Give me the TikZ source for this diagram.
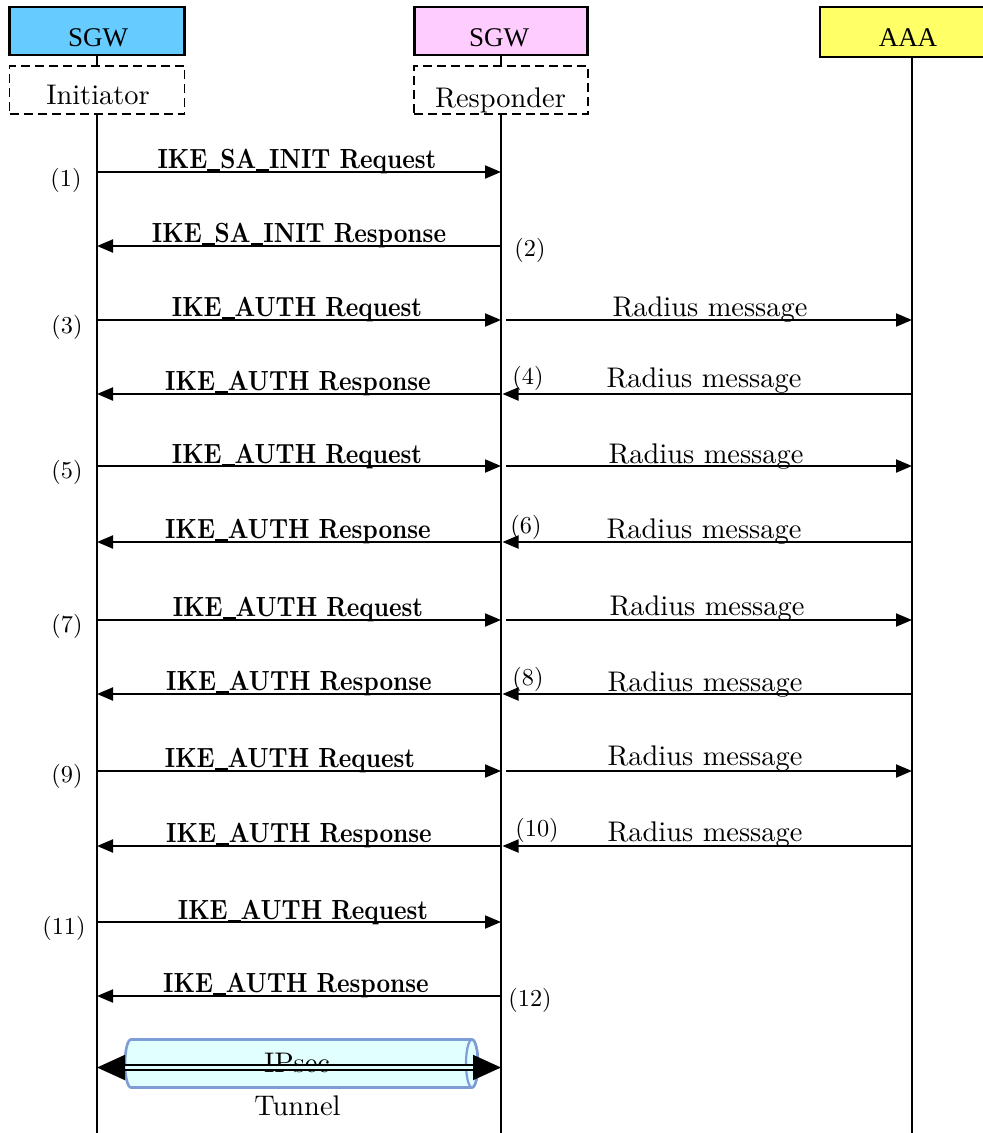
\documentclass[tikz,border=0pt]{standalone}
\usepackage{fontspec}
\usepackage{graphicx}
\usetikzlibrary{arrows.meta}
\setmainfont{lmroman10-regular}[Extension=.otf, BoldFont=lmroman10-bold, ItalicFont=lmroman10-italic]
\newfontfamily\headfont{Liberation Serif}
\definecolor{sgwblue}{HTML}{66CCFF}
\definecolor{sgwpink}{HTML}{FFCCFF}
\definecolor{aaayellow}{HTML}{FFFF66}
\definecolor{tunfill}{HTML}{E2FFFF}
\definecolor{tunedge}{HTML}{7E9CD6}
\newcommand{\us}{\rule[-2.5pt]{15pt}{2pt}}
\newcommand{\ikelab}[1]{\scalebox{0.86}[1]{\bfseries #1}}
\begin{document}
\begin{tikzpicture}[x=1pt,y=-1pt,
  every node/.style={inner sep=0pt,outer sep=0pt},
  reg/.style={font=\fontsize{28.4}{32}\selectfont},
  headtxt/.style={font=\headfont\fontsize{27}{30}\selectfont, anchor=base},
  num/.style={font=\fontsize{24.3}{28}\selectfont},
  ike/.style={font=\fontsize{27.7}{30}\selectfont, anchor=base},
  rad/.style={font=\fontsize{28.4}{32}\selectfont, anchor=base},
  headbox/.style={draw=black, line width=2.2pt, minimum width=175pt, minimum height=48pt},
  rolebox/.style={draw=black, line width=1.8pt, dash pattern=on 9pt off 5pt, minimum width=175pt, minimum height=48pt},
  life/.style={line width=1.6pt},
  msg/.style={line width=2pt, -{Triangle[length=16pt,width=13pt]}},
  tunarrow/.style={line width=2pt, double=tunfill, double distance=3pt,
    {Triangle[length=28pt,width=25pt]}-{Triangle[length=28pt,width=25pt]}},
  tube/.style={draw=tunedge, fill=tunfill, line width=2.6pt},
  ]
\clip (0,0) rectangle (983,1133);
\fill[white] (0,0) rectangle (983,1133);

% heads
\node[headbox, fill=sgwblue] (sgwI) at (97,31) {};
\node[rolebox] (ini) at (97,90) {};
\node[headbox, fill=sgwpink, minimum width=173pt] (sgwR) at (501,31) {};
\node[rolebox, minimum width=174pt] (res) at (501,90) {};
\node[headbox, fill=aaayellow, minimum width=180pt, minimum height=50pt] (aaa) at (910,32) {};

\node[headtxt] (tsgwI) at (98,46) {SGW};
\node[headtxt] (tsgwR) at (499,46) {SGW};
\node[headtxt] (taaa) at (908,46) {AAA};
\node[reg, anchor=base] (tini) at (98,104) {Initiator};
\node[reg, anchor=base] (tres) at (500.5,107) {Responder};

% lifelines
\coordinate (iEnd) at (97,1133);
\coordinate (rEnd) at (501,1133);
\coordinate (aEnd) at (912,1133);
\draw[life] (sgwI.south) -- (ini.north);
\draw[life] (ini.south) -- (iEnd);
\draw[life] (sgwR.south) -- (res.north);
\draw[life] (res.south) -- (rEnd);
\draw[life] (aaa.south -| aEnd) -- (aEnd);

% row coordinates
\foreach \k/\y in {1/172,2/246,3/320,4/394,5/466,6/542,7/620,8/694,9/771,10/846,11/922,12/996}{
  \coordinate (i\k) at (97,\y);
  \coordinate (r\k) at (501,\y);
  \coordinate (g\k) at (506,\y);
  \coordinate (a\k) at (912,\y);
}

% IKE messages
\foreach \k in {1,3,5,7,9,11}{ \draw[msg] (i\k) -- (r\k); }
\foreach \k in {2,4,6,8,10,12}{ \draw[msg] (r\k) -- (i\k); }

% Radius messages
\foreach \k in {3,5,7,9}{ \draw[msg] (g\k) -- (a\k); }
\foreach \k in {4,6,8,10}{ \draw[msg, shorten >=1.5pt] (a\k) -- (r\k); }

% IKE labels
\node[ike] (l1) at (297,168) {\ikelab{IKE\us SA\us INIT Request}};
\node[ike] (l2) at (299,242) {\ikelab{IKE\us SA\us INIT Response}};
\node[ike] (l3) at (297,316) {\ikelab{IKE\us AUTH Request}};
\node[ike] (l4) at (298,390.5) {\ikelab{IKE\us AUTH Response}};
\node[ike] (l5) at (297,463) {\ikelab{IKE\us AUTH Request}};
\node[ike] (l6) at (298,538) {\ikelab{IKE\us AUTH Response}};
\node[ike] (l7) at (298,616.5) {\ikelab{IKE\us AUTH Request}};
\node[ike] (l8) at (299,690.5) {\ikelab{IKE\us AUTH Response}};
\node[ike] (l9) at (290,767.5) {\ikelab{IKE\us AUTH Request}};
\node[ike] (l10) at (299,842) {\ikelab{IKE\us AUTH Response}};
\node[ike] (l11) at (303,919) {\ikelab{IKE\us AUTH Request}};
\node[ike] (l12) at (296,992.5) {\ikelab{IKE\us AUTH Response}};

% Radius labels
\node[rad] (m3) at (710,316.5) {Radius message};
\node[rad] (m4) at (704,387.5) {Radius message};
\node[rad] (m5) at (706,463.5) {Radius message};
\node[rad] (m6) at (704,538.5) {Radius message};
\node[rad] (m7) at (707,615.5) {Radius message};
\node[rad] (m8) at (705,691.5) {Radius message};
\node[rad] (m9) at (705,765.5) {Radius message};
\node[rad] (m10) at (705,841.5) {Radius message};

% step numbers
\node[num] (n1) at (66,180) {(1)};
\node[num] (n2) at (530,250) {(2)};
\node[num] (n3) at (67,327) {(3)};
\node[num] (n4) at (528,378) {(4)};
\node[num] (n5) at (67,472) {(5)};
\node[num] (n6) at (526,527) {(6)};
\node[num] (n7) at (67,626) {(7)};
\node[num] (n8) at (528,679) {(8)};
\node[num] (n9) at (67,776) {(9)};
\node[num] (n10) at (537,830) {(10)};
\node[num] (n11) at (64,928) {(11)};
\node[num] (n12) at (530,1000) {(12)};

% IPsec tunnel (cylinder)
\path[tube] (472,1039.5) -- (131,1039.5)
  arc[start angle=270, end angle=90, x radius=6, y radius=24]
  -- (472,1087.5)
  arc[start angle=90, end angle=-90, x radius=6, y radius=24] -- cycle;
\draw[draw=tunedge, line width=2.2pt] (472,1063.5) ellipse[x radius=6, y radius=24];
\node[reg, anchor=base] (tip) at (297,1072) {IPsec};
\coordinate (tL) at (97,1067.5);
\coordinate (tR) at (501,1067.5);
\draw[tunarrow] (tL) -- (tR);
\node[reg, anchor=base] (ttun) at (297.5,1115) {Tunnel};
\end{tikzpicture}
\end{document}
